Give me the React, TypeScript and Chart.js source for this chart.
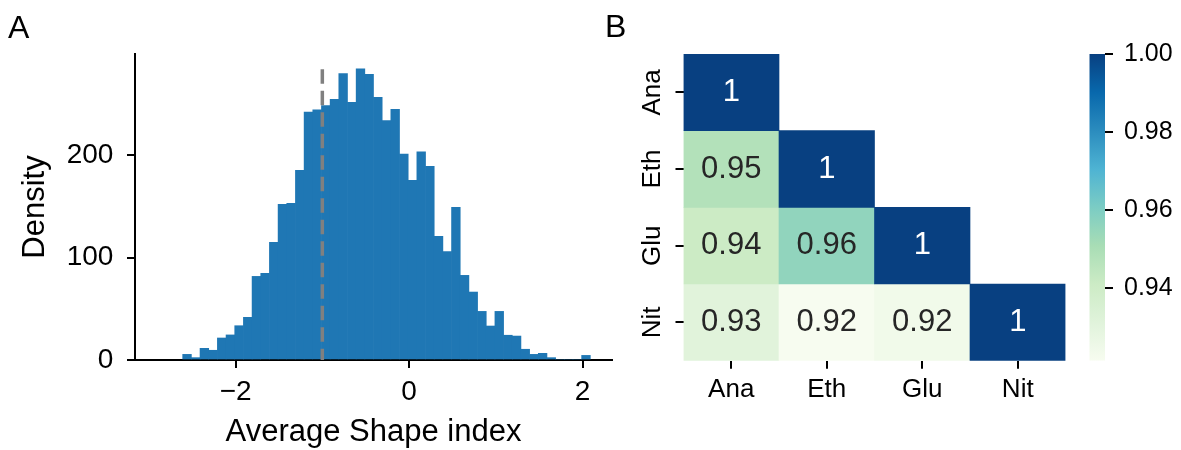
import React, { useEffect, useRef } from 'react';
import { Chart, registerables } from 'chart.js';

Chart.register(...registerables);

const FONT = '"Liberation Sans", Arial, Helvetica, sans-serif';
Chart.defaults.font.family = FONT;
Chart.defaults.color = '#000';

// ---------- Panel A: histogram ----------
const binCenters = [
  -2.56, -2.46, -2.36, -2.26, -2.16, -2.06, -1.96, -1.86, -1.76, -1.66,
  -1.56, -1.46, -1.36, -1.26, -1.16, -1.06, -0.96, -0.86, -0.76, -0.66,
  -0.56, -0.46, -0.36, -0.26, -0.16, -0.06, 0.04, 0.14, 0.24, 0.34,
  0.44, 0.54, 0.64, 0.74, 0.84, 0.94, 1.04, 1.14, 1.24, 1.34,
  1.44, 1.54, 1.64, 1.74, 1.84, 1.94, 2.04,
];
const binHeights = [
  5.5, 2.3, 11.4, 9.5, 21.5, 24.5, 33.5, 41.7, 81.7, 84.6,
  114.9, 152.1, 153.1, 185.3, 242.3, 244.5, 248.5, 254.6, 279.8, 251.8,
  284.6, 279.1, 256.6, 233.9, 245.0, 201.3, 175.5, 203.3, 189.2, 120.8,
  105.9, 149.1, 82.7, 66.4, 47.5, 33.2, 47.5, 24.2, 23.4, 10.5,
  5.5, 6.5, 2.3, 0, 0, 0, 4.5,
];
const histXTicks = [-2, 0, 2];
const histYTicks = [0, 100, 200];
const thresholdX = -1;
const thresholdTop = 284;

// ---------- Panel B: correlation heatmap ----------
const varLabels = ['Ana', 'Eth', 'Glu', 'Nit'];
const rowAna = [1];
const rowEth = [0.948, 1];
const rowGlu = [0.941, 0.956, 1];
const rowNit = [0.931, 0.9216, 0.924, 1];
const corrRows = [rowAna, rowEth, rowGlu, rowNit];
const cbarTicks = [0.94, 0.96, 0.98, 1.0];
const vmin = 0.9214;
const vmax = 1.0;

const GNBU = ['#f7fcf0', '#e0f3db', '#ccebc5', '#a8ddb5', '#7bccc4', '#4eb3d3', '#2b8cbe', '#0868ac', '#084081'];

function hexToRgb(h: string) {
  const n = parseInt(h.slice(1), 16);
  return [(n >> 16) & 255, (n >> 8) & 255, n & 255];
}

function gnbuRgb(v: number) {
  let t = (v - vmin) / (vmax - vmin);
  t = Math.max(0, Math.min(1, t));
  const n = GNBU.length - 1;
  const p = t * n;
  const i = Math.min(Math.floor(p), n - 1);
  const f = p - i;
  const a = hexToRgb(GNBU[i]);
  const b = hexToRgb(GNBU[i + 1]);
  return a.map((av, k) => Math.round(av + (b[k] - av) * f));
}

function rgbStr(c: number[]) {
  return `rgb(${c[0]},${c[1]},${c[2]})`;
}

function luminance(c: number[]) {
  const lin = c.map((x) => {
    const s = x / 255;
    return s <= 0.03928 ? s / 12.92 : Math.pow((s + 0.055) / 1.055, 2.4);
  });
  return 0.2126 * lin[0] + 0.7152 * lin[1] + 0.0722 * lin[2];
}

function fmt2g(v: number) {
  return String(Number(v.toPrecision(2)));
}

const tickGrid = {
  display: true,
  drawOnChartArea: false,
  drawTicks: true,
  tickLength: 8,
  tickColor: '#000',
  tickWidth: 2,
  color: '#000',
  lineWidth: 2,
  offset: false,
};

function histConfig(): any {
  return {
    type: 'bar',
    data: {
      datasets: [
        {
          type: 'line',
          data: [
            { x: thresholdX, y: thresholdTop },
            { x: thresholdX, y: 0 },
          ],
          borderColor: '#808080',
          borderWidth: 3.5,
          borderDash: [14.3, 7.2],
          pointRadius: 0,
          fill: false,
          order: 0,
        },
        {
          type: 'bar',
          data: binCenters.map((x, i) => ({ x, y: binHeights[i] })),
          backgroundColor: '#1f77b4',
          borderWidth: 0,
          barPercentage: 1,
          categoryPercentage: 1,
          order: 1,
        },
      ],
    },
    options: {
      responsive: false,
      animation: false,
      layout: { padding: { left: 0, right: 8, top: 54, bottom: 0 } },
      plugins: { legend: { display: false }, tooltip: { enabled: false } },
      scales: {
        x: {
          type: 'linear',
          min: -3.16,
          max: 2.34,
          offset: false,
          afterBuildTicks: (s: any) => {
            s.ticks = histXTicks.map((v) => ({ value: v }));
          },
          afterFit: (s: any) => {
            s.height = 90;
          },
          grid: tickGrid,
          border: { display: true, color: '#000', width: 2 },
          ticks: {
            font: { size: 28 },
            color: '#000',
            padding: 7.4,
            maxRotation: 0,
            callback: (v: number) => (v < 0 ? '\u2212' + Math.abs(v) : String(v)),
          },
          title: {
            display: true,
            text: 'Average Shape index',
            font: { size: 31 },
            color: '#000',
            padding: { top: 0, bottom: -1.5 },
          },
        },
        y: {
          type: 'linear',
          min: 0,
          max: 299,
          afterBuildTicks: (s: any) => {
            s.ticks = histYTicks.map((v) => ({ value: v }));
          },
          afterFit: (s: any) => {
            s.width = 135;
          },
          grid: tickGrid,
          border: { display: true, color: '#000', width: 2 },
          ticks: {
            font: { size: 28 },
            color: '#000',
            padding: 13.6,
            callback: (v: number) => String(v),
          },
          title: {
            display: true,
            text: 'Density',
            font: { size: 31 },
            color: '#000',
            padding: { top: 16.4, bottom: 0 },
          },
        },
      },
    },
  };
}

const annotPlugin = {
  id: 'annot',
  afterDatasetsDraw(chart: any) {
    const ctx = chart.ctx;
    ctx.save();
    ctx.font = `31px ${FONT}`;
    ctx.textAlign = 'center';
    ctx.textBaseline = 'alphabetic';
    chart.data.datasets.forEach((ds: any, di: number) => {
      const meta = chart.getDatasetMeta(di);
      meta.data.forEach((el: any, ci: number) => {
        const v = ds.values[ci];
        if (v == null) return;
        const p = el.getProps(['x', 'y', 'base'], true);
        const cy = (p.y + p.base) / 2;
        const lum = luminance(gnbuRgb(v));
        ctx.fillStyle = lum > 0.408 ? '#262626' : '#ffffff';
        ctx.fillText(fmt2g(v), p.x, cy + 8.7);
      });
    });
    ctx.restore();
  },
};

function heatConfig(): any {
  const datasets = corrRows.map((row, r) => ({
    data: varLabels.map((_, c) => (c < row.length ? [r - 0.5, r + 0.5] : null)),
    values: varLabels.map((_, c) => (c < row.length ? row[c] : null)),
    backgroundColor: varLabels.map((_, c) => (c < row.length ? rgbStr(gnbuRgb(row[c])) : 'rgba(0,0,0,0)')),
    borderWidth: 0,
    barPercentage: 1,
    categoryPercentage: 1,
    grouped: false,
  }));
  return {
    type: 'bar',
    data: { labels: varLabels, datasets },
    plugins: [annotPlugin],
    options: {
      responsive: false,
      animation: false,
      layout: { padding: { left: 0, right: 14.5, top: 54, bottom: 0 } },
      plugins: { legend: { display: false }, tooltip: { enabled: false } },
      scales: {
        x: {
          type: 'category',
          offset: true,
          afterFit: (s: any) => {
            s.height = 89.3;
          },
          grid: tickGrid,
          border: { display: false },
          ticks: { font: { size: 26 }, color: '#000', padding: 5.7, maxRotation: 0 },
        },
        y: {
          type: 'linear',
          min: -0.5,
          max: 3.5,
          reverse: true,
          afterBuildTicks: (s: any) => {
            s.ticks = varLabels.map((_, i) => ({ value: i }));
          },
          afterFit: (s: any) => {
            s.width = 83.5;
          },
          grid: tickGrid,
          border: { display: false },
          ticks: {
            font: { size: 26 },
            color: '#000',
            padding: 0,
            minRotation: 90,
            maxRotation: 90,
            crossAlign: 'center',
            callback: (v: number) => varLabels[v] ?? '',
          },
        },
      },
    },
  };
}

function cbarConfig(): any {
  return {
    type: 'bar',
    data: {
      labels: [''],
      datasets: [
        {
          data: [[vmin, vmax]],
          borderWidth: 0,
          barPercentage: 1,
          categoryPercentage: 1,
          inflateAmount: 0,
          backgroundColor: (c: any) => {
            const chart = c.chart;
            if (!chart.chartArea) return GNBU[4];
            const ys = chart.scales.y;
            const y0 = ys.getPixelForValue(vmin);
            const y1 = ys.getPixelForValue(vmax);
            const g = chart.ctx.createLinearGradient(0, y0, 0, y1);
            GNBU.forEach((col, i) => g.addColorStop(i / (GNBU.length - 1), col));
            return g;
          },
        },
      ],
    },
    options: {
      responsive: false,
      animation: false,
      layout: { padding: { left: 9.3, right: 0, top: 54, bottom: 89.3 } },
      plugins: { legend: { display: false }, tooltip: { enabled: false } },
      scales: {
        x: { display: false, offset: true },
        y: {
          type: 'linear',
          position: 'right',
          min: vmin,
          max: vmax,
          afterBuildTicks: (s: any) => {
            s.ticks = cbarTicks.map((v) => ({ value: v }));
          },
          afterFit: (s: any) => {
            s.width = 76;
          },
          grid: tickGrid,
          border: { display: false },
          ticks: {
            font: { size: 25 },
            color: '#000',
            padding: 11,
            callback: (v: number) => v.toFixed(2),
          },
        },
      },
    },
  };
}

export default function App() {
  const histRef = useRef<HTMLCanvasElement | null>(null);
  const heatRef = useRef<HTMLCanvasElement | null>(null);
  const cbarRef = useRef<HTMLCanvasElement | null>(null);

  useEffect(() => {
    const charts: Chart[] = [];
    if (histRef.current) charts.push(new Chart(histRef.current, histConfig()));
    if (heatRef.current) charts.push(new Chart(heatRef.current, heatConfig()));
    if (cbarRef.current) charts.push(new Chart(cbarRef.current, cbarConfig()));
    return () => charts.forEach((c) => c.destroy());
  }, []);

  const letter: React.CSSProperties = {
    position: 'absolute',
    font: `32px ${FONT}`,
    lineHeight: '32px',
    color: '#000',
    margin: 0,
  };

  return (
    <div style={{ position: 'absolute', left: 0, top: 0, width: 1181, height: 450, background: '#fff', overflow: 'hidden' }}>
      <canvas ref={histRef} width={620} height={450} style={{ position: 'absolute', left: 0, top: 0 }} />
      <canvas ref={heatRef} width={480} height={450} style={{ position: 'absolute', left: 600, top: 0 }} />
      <canvas ref={cbarRef} width={101} height={450} style={{ position: 'absolute', left: 1080, top: 0 }} />
      <div style={{ ...letter, left: 8, top: 11 }}>A</div>
      <div style={{ ...letter, left: 605, top: 10 }}>B</div>
    </div>
  );
}
